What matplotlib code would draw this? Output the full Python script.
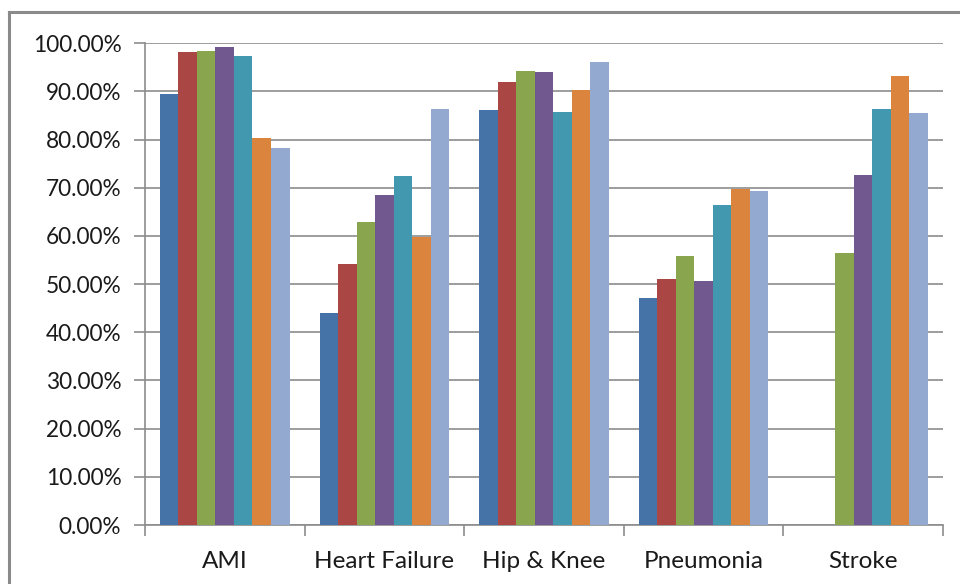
import matplotlib.pyplot as plt
import numpy as np
from matplotlib.lines import Line2D
from matplotlib.ticker import FuncFormatter, MultipleLocator

plt.rcParams['font.family'] = ['Lato', 'DejaVu Sans']

categories = ['AMI', 'Heart Failure', 'Hip & Knee', 'Pneumonia', 'Stroke']

# seven series per category (percent); Stroke has no value for the first two
s1 = [89.5, 44.0, 86.1, 47.2, 0.0]
s2 = [98.2, 54.1, 91.9, 51.1, 0.0]
s3 = [98.4, 62.8, 94.2, 55.9, 56.4]
s4 = [99.2, 68.6, 94.0, 50.6, 72.6]
s5 = [97.3, 72.5, 85.8, 66.5, 86.4]
s6 = [80.3, 59.7, 90.2, 69.7, 93.1]
s7 = [78.2, 86.4, 96.1, 69.4, 85.6]
series = [s1, s2, s3, s4, s5, s6, s7]
colors = ['#4572A7', '#AA4643', '#89A54E', '#71588F', '#4198AF', '#DB843D', '#93A9CF']

fig = plt.figure(figsize=(9.6, 5.84), dpi=100)
ax = fig.add_axes([0.151, 0.101, 0.831, 0.825])

x = np.arange(len(categories))
n = len(series)
w = 0.116
for i, (vals, c) in enumerate(zip(series, colors)):
    ax.bar(x + (i - (n - 1) / 2) * w, vals, width=w, color=c, zorder=3)

ax.set_ylim(0, 100)
ax.set_xlim(-0.5, len(categories) - 0.5)
ax.yaxis.set_major_locator(MultipleLocator(10))
ax.yaxis.set_major_formatter(FuncFormatter(lambda v, p: '%.2f%%' % v))
ax.grid(axis='y', color='#8c8c8c', linewidth=1.2, zorder=0)

ax.set_xticks(x)
ax.set_xticklabels(categories)
ax.set_xticks(np.arange(-0.5, len(categories)), minor=True)
ax.tick_params(axis='x', which='major', length=0, pad=19, labelsize=17.5, colors='#1a1a1a')
ax.tick_params(axis='x', which='minor', length=8, width=1.2, color='#8c8c8c')
ax.tick_params(axis='y', length=8, width=1.2, color='#8c8c8c', pad=9, labelsize=16.3, labelcolor='#1a1a1a')

for side in ['top', 'right']:
    ax.spines[side].set_visible(False)
for side in ['left', 'bottom']:
    ax.spines[side].set_color('#8c8c8c')
    ax.spines[side].set_linewidth(1.2)

# outer frame (top and left edges of the chart box)
fig.add_artist(Line2D([9 / 960, 1], [1 - 12 / 584, 1 - 12 / 584], transform=fig.transFigure,
                      color='#8a8a8a', linewidth=2.2))
fig.add_artist(Line2D([9 / 960, 9 / 960], [0, 1 - 12 / 584], transform=fig.transFigure,
                      color='#8a8a8a', linewidth=2.2))

fig.savefig('out.png', dpi=100)
